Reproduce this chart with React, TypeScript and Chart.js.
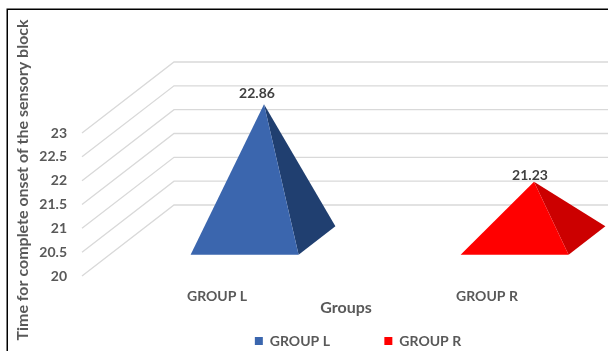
import React, { useEffect, useRef } from "react";
import { BarController, Chart, registerables } from "chart.js";

const categories = ["GROUP L", "GROUP R"];
const groupLValues = [22.86, null];
const groupRValues = [null, 21.23];
const axisMin = 20;
const axisMax = 23;
const axisStep = 0.5;

const yTitle = "Time for complete onset of the sensory block";
const xTitle = "Groups";

const FONT = "Lato, Carlito, sans-serif";
const TEXT_GREY = "#595959";
const GRID_GREY = "#D9D9D9";

// Oblique projection of the chart's depth axis, in pixels.
const DEPTH_X = 92;
const DEPTH_Y = 71;
// The pyramid's square base sits between these fractions of the depth axis.
const BASE_FRONT = 0.3;
const BASE_BACK = 0.7;
// How far the legend hangs below the default bottom edge of the layout.
const LEGEND_DROP = 7;

class PyramidController extends BarController {
  static id = "pyramid";
  static defaults = BarController.defaults;
  static overrides = BarController.overrides;

  draw() {
    const ctx = this.chart.ctx;
    const ds = this.getDataset() as any;
    const yScale = this.chart.scales.y;
    const floor = yScale.bottom;
    this.getMeta().data.forEach((bar: any, i: number) => {
      const value = ds.data[i];
      if (value === null || value === undefined) return;
      const half = bar.width / 2;
      const frontY = floor - BASE_FRONT * DEPTH_Y;
      const backY = floor - BASE_BACK * DEPTH_Y;
      const frontShift = BASE_FRONT * DEPTH_X;
      const backShift = BASE_BACK * DEPTH_X;
      const apexX = bar.x + 0.5 * DEPTH_X + 1;
      const apexY = yScale.getPixelForValue(value) - 0.5 * DEPTH_Y;
      const left = bar.x - half + frontShift;
      const right = bar.x + half + frontShift;
      const backRight = bar.x + half + backShift;

      ctx.save();
      ctx.fillStyle = ds.sideColor;
      ctx.beginPath();
      ctx.moveTo(right, frontY);
      ctx.lineTo(backRight, backY);
      ctx.lineTo(apexX, apexY);
      ctx.closePath();
      ctx.fill();

      ctx.fillStyle = ds.backgroundColor;
      ctx.beginPath();
      ctx.moveTo(left, frontY);
      ctx.lineTo(right, frontY);
      ctx.lineTo(apexX, apexY);
      ctx.closePath();
      ctx.fill();

      ctx.fillStyle = "#404040";
      ctx.font = `bold 14px ${FONT}`;
      ctx.textAlign = "center";
      ctx.textBaseline = "middle";
      ctx.fillText(String(value), apexX + ds.labelShiftX, apexY + ds.labelShiftY);
      ctx.restore();
    });
  }
}

Chart.register(...registerables, PyramidController as any);

// Back wall and side wall gridlines, plus the frame and the two axis titles.
const wallsPlugin = {
  id: "walls",
  beforeDraw(chart: any) {
    const { ctx } = chart;
    ctx.save();
    ctx.strokeStyle = "#000000";
    ctx.lineWidth = 1.5;
    ctx.beginPath();
    ctx.moveTo(7.25, chart.height + 2);
    ctx.lineTo(7.25, 9.25);
    ctx.lineTo(chart.width + 2, 9.25);
    ctx.stroke();
    ctx.restore();
  },
  beforeDatasetsDraw(chart: any) {
    const { ctx, chartArea } = chart;
    const y = chart.scales.y;
    ctx.save();
    ctx.strokeStyle = GRID_GREY;
    ctx.lineWidth = 1.3;
    y.ticks.forEach((t: any) => {
      const py = y.getPixelForValue(t.value);
      ctx.beginPath();
      ctx.moveTo(chartArea.left, py);
      ctx.lineTo(chartArea.left + DEPTH_X, py - DEPTH_Y);
      ctx.lineTo(chartArea.right + DEPTH_X, py - DEPTH_Y);
      ctx.stroke();
    });
    ctx.restore();
  },
  afterDraw(chart: any) {
    const { ctx } = chart;
    ctx.save();
    ctx.fillStyle = TEXT_GREY;
    ctx.textAlign = "center";
    ctx.textBaseline = "middle";
    ctx.font = `bold 16px ${FONT}`;
    ctx.fillText(xTitle, 346, 308);
    ctx.translate(23, 180);
    ctx.rotate(-Math.PI / 2);
    ctx.fillText(yTitle, 0, 0);
    ctx.restore();
  },
};

export default function App() {
  const ref = useRef<HTMLCanvasElement | null>(null);

  useEffect(() => {
    const chart = new Chart(ref.current as HTMLCanvasElement, {
      type: "pyramid" as any,
      data: {
        labels: categories,
        datasets: [
          {
            label: "GROUP L",
            data: groupLValues,
            backgroundColor: "#3B66AE",
            sideColor: "#203F70",
            labelShiftX: -7,
            labelShiftY: -11,
            barThickness: 108,
            clip: false,
          },
          {
            label: "GROUP R",
            data: groupRValues,
            backgroundColor: "#FF0000",
            sideColor: "#CC0000",
            labelShiftX: -4,
            labelShiftY: -6,
            barThickness: 108,
            clip: false,
          },
        ] as any,
      },
      options: {
        animation: false,
        responsive: false,
        layout: { padding: { top: 133, right: 0, left: 0, bottom: -LEGEND_DROP } },
        plugins: {
          tooltip: { enabled: false },
          legend: {
            position: "bottom",
            labels: {
              boxWidth: 8,
              boxHeight: 8,
              padding: 0,
              color: TEXT_GREY,
              font: { family: FONT, size: 14, weight: "bold" },
              // The first entry carries trailing blanks to open the gap between entries.
              generateLabels: (c: any) =>
                c.data.datasets.map((d: any, i: number) => ({
                  text: i === 0 ? d.label + " ".repeat(16) : d.label,
                  fillStyle: d.backgroundColor,
                  strokeStyle: d.backgroundColor,
                  lineWidth: 0,
                  fontColor: TEXT_GREY,
                  datasetIndex: i,
                })),
            },
          },
        },
        scales: {
          x: {
            type: "category",
            stacked: true,
            grid: { display: false, drawTicks: false },
            border: { display: false },
            ticks: {
              padding: 12,
              color: TEXT_GREY,
              maxRotation: 0,
              font: { family: FONT, size: 14, weight: "bold" },
            },
            afterFit: (s: any) => {
              s.height = s.chart.height + LEGEND_DROP - 276 - (s.chart.legend ? s.chart.legend.height : 0);
            },
          },
          y: {
            type: "linear",
            stacked: true,
            min: axisMin,
            max: axisMax,
            grid: { display: false, drawTicks: false },
            border: { display: false },
            ticks: {
              stepSize: axisStep,
              padding: 15,
              color: TEXT_GREY,
              font: { family: FONT, size: 14, weight: "bold" },
              callback: (v: any) => String(v),
            },
            afterFit: (s: any) => {
              s.width = 82;
            },
          },
          // Empty right-hand gutter that leaves room for the receding walls.
          gutter: {
            type: "linear",
            position: "right",
            grid: { display: false, drawTicks: false },
            border: { display: false },
            ticks: { display: false },
            afterFit: (s: any) => {
              s.width = 94;
            },
          },
        },
      } as any,
      plugins: [wallsPlugin],
    });
    return () => chart.destroy();
  }, []);

  return (
    <div
      style={{
        position: "absolute",
        left: 0,
        top: 0,
        width: 608,
        height: 351,
        overflow: "hidden",
        background: "#ffffff",
      }}
    >
      <canvas ref={ref} width={716} height={351} style={{ display: "block" }} />
    </div>
  );
}
